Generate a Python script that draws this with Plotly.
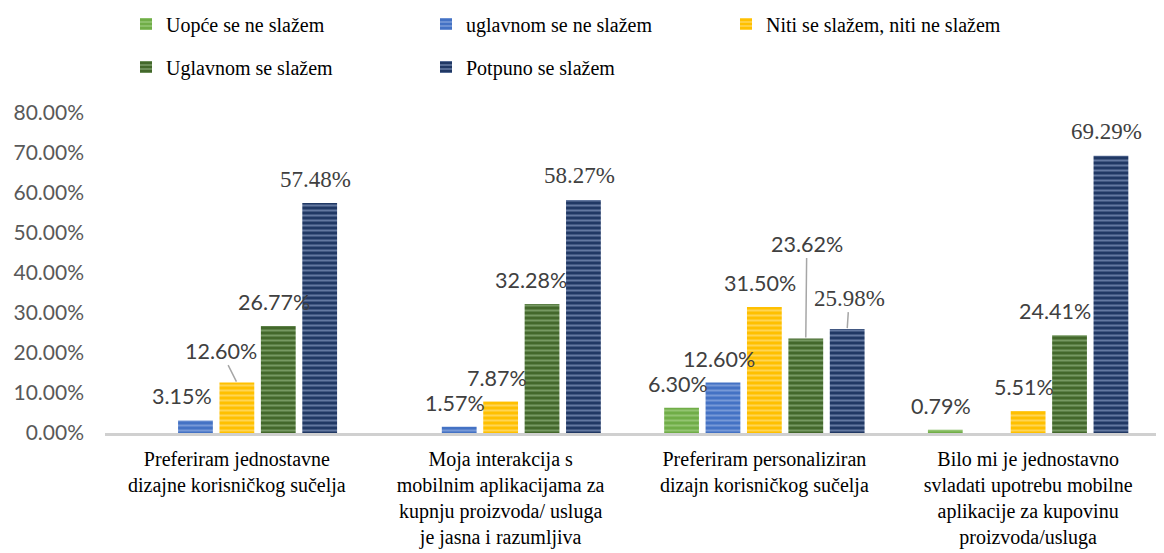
import plotly.graph_objects as go

# podaci
categories = [
    "Preferiram jednostavne<br>dizajne korisničkog sučelja",
    "Moja interakcija s<br>mobilnim aplikacijama za<br>kupnju proizvoda/ usluga<br>je jasna i razumljiva",
    "Preferiram personaliziran<br>dizajn korisničkog sučelja",
    "Bilo mi je jednostavno<br>svladati upotrebu mobilne<br>aplikacije za kupovinu<br>proizvoda/usluga",
]
series_names = [
    "Uopće se ne slažem",
    "uglavnom se ne slažem",
    "Niti se slažem, niti ne slažem",
    "Uglavnom se slažem",
    "Potpuno se slažem",
]
uopce_ne = [0, 0, 6.30, 0.79]
uglavnom_ne = [3.15, 1.57, 12.60, 0]
niti_niti = [12.60, 7.87, 31.50, 5.51]
uglavnom_da = [26.77, 32.28, 23.62, 24.41]
potpuno_da = [57.48, 58.27, 25.98, 69.29]
series_values = [uopce_ne, uglavnom_ne, niti_niti, uglavnom_da, potpuno_da]
y_ticks = [0, 10, 20, 30, 40, 50, 60, 70, 80]

SERIF = "Times New Roman, Liberation Serif, serif"
SANS = "Lato, Carlito, sans-serif"

# boje (osnovna, svijetle pruge)
colors = ["#70ad47", "#4472c4", "#ffc000", "#43682b", "#203864"]
stripes = ["#b5dc9c", "#a9c0ea", "#ffe9a6", "#a9c99a", "#a6b8dc"]

bargap = 0.215
slot = (1 - bargap) / len(series_names)

# posebni pomaci oznaka (serija, kategorija): (dx, dy, linija)
label_offsets = {
    (1, 0): (-13, 24, False),
    (2, 0): (-16, -32, True),
    (3, 1): (-11, 24, False),
    (3, 2): (1, -95, True),
    (4, 2): (2, -31, True),
    (3, 3): (-15, 24, False),
}
serif_labels = {(4, 0), (4, 1), (4, 2), (4, 3)}

fig = go.Figure()
for i, name in enumerate(series_names):
    fig.add_trace(go.Bar(
        name=name,
        x=categories,
        y=series_values[i],
        marker=dict(
            color=colors[i],
            line=dict(width=0),
            pattern=dict(shape="-", bgcolor=colors[i], fgcolor=stripes[i],
                         size=5, solidity=0.4),
        ),
        legend="legend" if i < 3 else "legend2",
        hoverinfo="skip",
    ))

annotations = []
for i, vals in enumerate(series_values):
    for j, v in enumerate(vals):
        if v <= 0:
            continue
        dx, dy, arrow = label_offsets.get((i, j), (-4, 24, False))
        serif = (i, j) in serif_labels
        font = dict(family=SERIF if serif else SANS,
                    size=23 if serif else 21.5, color="#404040")
        ann = dict(
            x=j + (i - 2) * slot, y=v, xref="x", yref="y",
            text=f"{v:.2f}%", font=font,
        )
        if arrow:
            ann.update(showarrow=True, ax=dx, ay=dy, arrowhead=0,
                       arrowwidth=1.5, arrowcolor="#a6a6a6", standoff=1)
        else:
            ann.update(showarrow=False, xshift=dx, yshift=dy, yanchor="middle")
        annotations.append(ann)

legend_style = dict(
    orientation="h", xref="container", yref="container",
    xanchor="left", yanchor="middle",
    font=dict(family=SERIF, size=20, color="black"),
    entrywidth=255, entrywidthmode="pixels",
    bgcolor="rgba(0,0,0,0)", itemclick=False, itemdoubleclick=False,
)

fig.update_layout(
    width=1164, height=553,
    barmode="group", bargap=bargap, bargroupgap=0.16,
    margin=dict(l=97, r=12, t=105, b=128),
    paper_bgcolor="white", plot_bgcolor="white",
    showlegend=True,
    legend=dict(legend_style, x=118 / 1164, y=1 - 16 / 553),
    legend2=dict(legend_style, x=118 / 1164, y=1 - 59 / 553),
    annotations=annotations,
    xaxis=dict(
        automargin=False,
        showgrid=False, showline=True, linecolor="#d0d0d0", linewidth=2.5,
        ticks="", ticklabelstandoff=6,
        tickfont=dict(family=SERIF, size=20, color="black"),
    ),
    yaxis=dict(
        automargin=False,
        range=[0, 80], tickvals=y_ticks, ticktext=[f"{t:.2f}%" for t in y_ticks],
        showgrid=False, zeroline=False, showline=False, ticks="",
        ticklabelstandoff=20,
        tickfont=dict(family=SANS, size=21, color="#595959"),
    ),
)

fig.write_html("out.html")
